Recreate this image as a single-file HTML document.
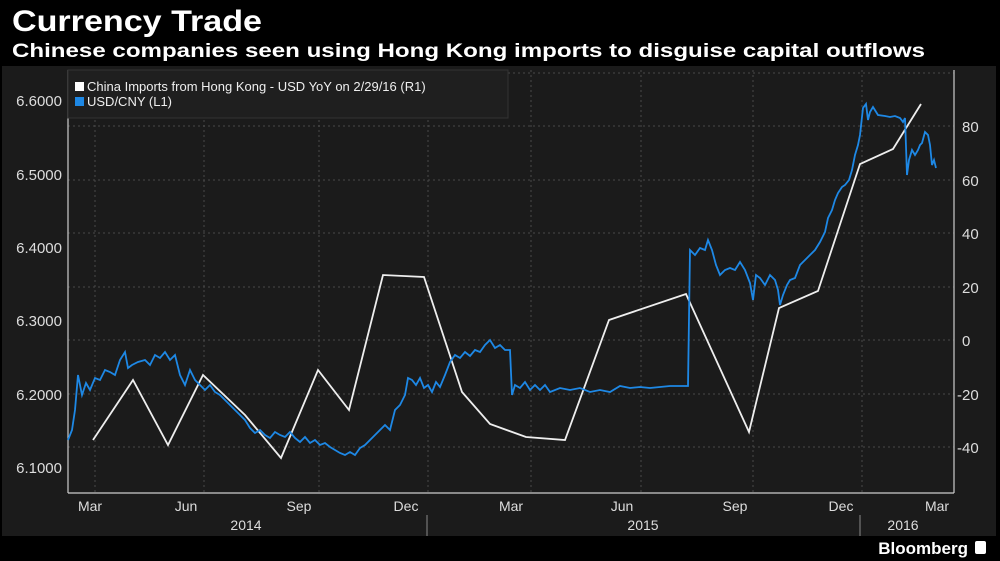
<!DOCTYPE html>
<html><head><meta charset="utf-8"><style>
html,body{margin:0;padding:0;background:#000;}
svg{display:block;font-family:"Liberation Sans",sans-serif;}
</style></head><body>
<svg width="1000" height="561" viewBox="0 0 1000 561">
<rect width="1000" height="561" fill="#000"/>
<rect x="2" y="66" width="994" height="470" fill="#1b1b1b"/>
<text x="12" y="31" fill="#fff" font-size="30" font-weight="bold" textLength="250" lengthAdjust="spacingAndGlyphs">Currency Trade</text>
<text x="12" y="57" fill="#fff" font-size="19" font-weight="bold" textLength="913" lengthAdjust="spacingAndGlyphs">Chinese companies seen using Hong Kong imports to disguise capital outflows</text>
<g stroke="#4a4a4a" stroke-dasharray="2,3" stroke-width="1">
<line x1="68" x2="954" y1="73" y2="73"/>
<line x1="68" x2="954" y1="126" y2="126"/><line x1="68" x2="954" y1="180" y2="180"/>
<line x1="68" x2="954" y1="233" y2="233"/><line x1="68" x2="954" y1="287" y2="287"/>
<line x1="68" x2="954" y1="340" y2="340"/><line x1="68" x2="954" y1="394" y2="394"/>
<line x1="68" x2="954" y1="447" y2="447"/>
<line x1="95" x2="95" y1="70" y2="492"/><line x1="204" x2="204" y1="70" y2="492"/>
<line x1="319" x2="319" y1="70" y2="492"/><line x1="428" x2="428" y1="70" y2="492"/>
<line x1="531" x2="531" y1="70" y2="492"/><line x1="641" x2="641" y1="70" y2="492"/>
<line x1="753" x2="753" y1="70" y2="492"/><line x1="862" x2="862" y1="70" y2="492"/>
</g>
<g stroke="#ccc" stroke-width="1.2" fill="none">
<line x1="68" y1="70" x2="68" y2="493"/><line x1="68" y1="493" x2="954" y2="493"/>
<line x1="954" y1="70" x2="954" y2="493"/>
<line x1="427" y1="515" x2="427" y2="536" stroke="#777"/><line x1="860" y1="515" x2="860" y2="536" stroke="#777"/>
</g>
<g fill="#ddd" font-size="15" text-anchor="end">
<text x="62" y="106">6.6000</text><text x="62" y="180">6.5000</text><text x="62" y="253">6.4000</text>
<text x="62" y="326">6.3000</text><text x="62" y="400">6.2000</text><text x="62" y="473">6.1000</text>
</g>
<g fill="#ddd" font-size="15">
<text x="962" y="132">80</text><text x="962" y="186">60</text><text x="962" y="239">40</text>
<text x="962" y="293">20</text><text x="962" y="346">0</text><text x="957" y="400">-20</text><text x="957" y="453">-40</text>
</g>
<g fill="#ddd" font-size="14" text-anchor="middle">
<text x="90" y="511">Mar</text><text x="186" y="511">Jun</text><text x="299" y="511">Sep</text>
<text x="406" y="511">Dec</text><text x="511" y="511">Mar</text><text x="622" y="511">Jun</text>
<text x="735" y="511">Sep</text><text x="841" y="511">Dec</text><text x="937" y="511">Mar</text>
<text x="246" y="530">2014</text><text x="643" y="530">2015</text><text x="903" y="530">2016</text>
</g>
<rect x="68" y="70" width="440" height="48" fill="#1f1f1f" stroke="#333"/>
<rect x="75" y="82" width="9" height="9" fill="#fff"/>
<rect x="75" y="97" width="9" height="9" fill="#1e88e5"/>
<text x="87" y="91" fill="#eee" font-size="13">China Imports from Hong Kong - USD YoY  on 2/29/16 (R1)</text>
<text x="87" y="106" fill="#eee" font-size="13">USD/CNY (L1)</text>
<polyline fill="none" stroke="#eee" stroke-width="1.8" points="93,440 133,380 168,445 203,375 245,415 281,458 318,370 349,410 383,275 424,277 462,392 490,424 526,437 565,440 609,320 686,294 749,432 779,308 818,291 860,164 893,149 921,104"/>
<polyline fill="none" stroke="#1e88e5" stroke-width="1.8" points="68,440 72,430 75,410 78,375 82,395 86,383 90,390 95,378 100,380 105,370 110,372 115,375 120,360 125,352 128,368 132,365 138,362 145,360 150,365 155,355 160,358 165,352 170,360 175,355 180,375 185,385 190,370 195,380 200,385 205,390 210,385 215,392 220,395 225,400 230,405 235,410 240,415 245,420 250,428 255,433 260,430 265,435 270,438 275,432 280,435 285,437 290,432 295,438 300,442 305,437 310,443 315,440 320,445 325,443 330,447 335,450 340,453 345,455 350,452 355,455 360,448 365,445 370,440 375,435 380,430 385,425 390,430 395,410 400,405 405,395 408,378 412,380 416,385 420,378 424,388 428,385 432,392 436,382 440,387 445,375 450,362 455,355 460,358 465,352 470,356 475,350 480,352 485,345 490,340 495,348 500,345 505,350 510,350 512,395 515,385 520,388 525,382 530,390 535,385 540,390 545,385 550,392 560,388 570,390 580,388 590,392 600,390 610,392 620,386 630,388 640,387 650,388 660,387 670,386 680,386 688,386 690,250 695,255 700,248 705,250 708,240 712,250 716,265 720,275 725,270 730,268 735,270 740,262 745,270 750,283 753,300 756,275 760,278 765,285 770,275 775,280 778,290 780,305 783,295 787,285 790,280 795,278 800,265 805,260 810,255 815,250 820,242 825,232 828,218 832,210 835,200 838,193 842,187 845,185 849,180 852,170 855,155 858,145 860,135 863,108 866,104 868,120 870,112 873,107 878,115 885,116 890,117 895,116 900,118 903,122 905,118 907,175 909,160 912,150 915,155 918,150 920,145 922,143 925,132 928,135 930,145 932,165 934,160 936,168"/>
<text x="968" y="554" fill="#fff" font-size="17" font-weight="bold" text-anchor="end">Bloomberg</text>
<rect x="975" y="541" width="11" height="13" rx="2" fill="#fff"/>
</svg>
</body></html>
